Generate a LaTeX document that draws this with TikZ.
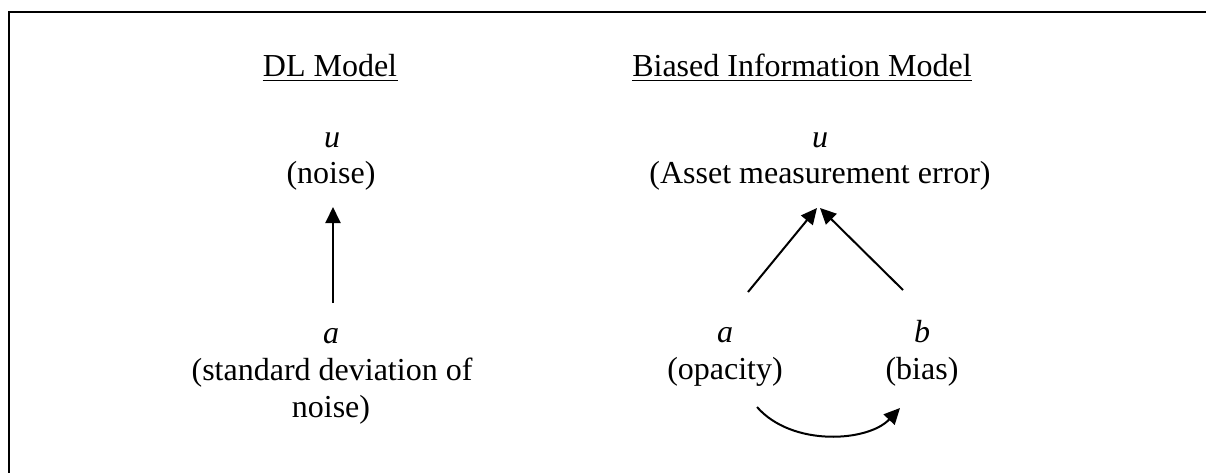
\documentclass[tikz,border=0pt]{standalone}
\usepackage{fontspec}
\setmainfont{Liberation Serif}
\usetikzlibrary{arrows.meta,calc}
\tikzset{
  lbl/.style={font=\fontsize{16}{18.4}\selectfont, inner sep=0pt, anchor=base},
  arr/.style={line width=1pt, -{Triangle[length=8pt,width=7.5pt]}},
  uline/.style={line width=0.8pt}
}
\begin{document}
\begin{tikzpicture}[x=0.5pt,y=-0.5pt]
\useasboundingbox (0,0) rectangle (1206,473);
% frame
\draw[line width=1pt] (1206,12) -- (9,12) -- (9,473);
% left model
\node[lbl] (ldl) at (330,76) {DL Model};
\draw[uline] ($(ldl.base west)+(0,4.5)$) -- ($(ldl.base east)+(0,4.5)$);
\node[lbl] (lu) at (332,147) {\itshape u};
\node[lbl] (lnoise) at (331,183) {(noise)};
\node[lbl] (la) at (331,343) {\itshape a};
\node[lbl] (lsd) at (332,380) {(standard deviation of};
\node[lbl] (lsd2) at (331,417) {noise)};
\draw[arr] ($(la.base)+(2,-40)$) -- ($(lnoise.base)+(2,24)$);
% right model
\node[lbl] (rtitle) at (802,76) {Biased Information Model};
\draw[uline] ($(rtitle.base west)+(0,4.5)$) -- ($(rtitle.base east)+(0,4.5)$);
\node[lbl] (ru) at (820,147) {\itshape u};
\node[lbl] (rasset) at (820,183) {(Asset measurement error)};
\node[lbl] (ra) at (725,342) {\itshape a};
\node[lbl] (ropac) at (725,379) {(opacity)};
\node[lbl] (rb) at (922,342) {\itshape b};
\node[lbl] (rbias) at (922,379) {(bias)};
\draw[arr] ($(ra.base)+(23,-50)$) -- ($(rasset.base)+(-3,25)$);
\draw[arr] ($(rb.base)+(-19,-52)$) -- ($(rasset.base)+(0,25)$);
\draw[arr] ($(ropac.base)+(32,28)$) .. controls ($(ropac.base)+(67,68)$) and ($(rbias.base)+(-54,63)$) .. ($(rbias.base)+(-22,29)$);
\end{tikzpicture}
\end{document}
